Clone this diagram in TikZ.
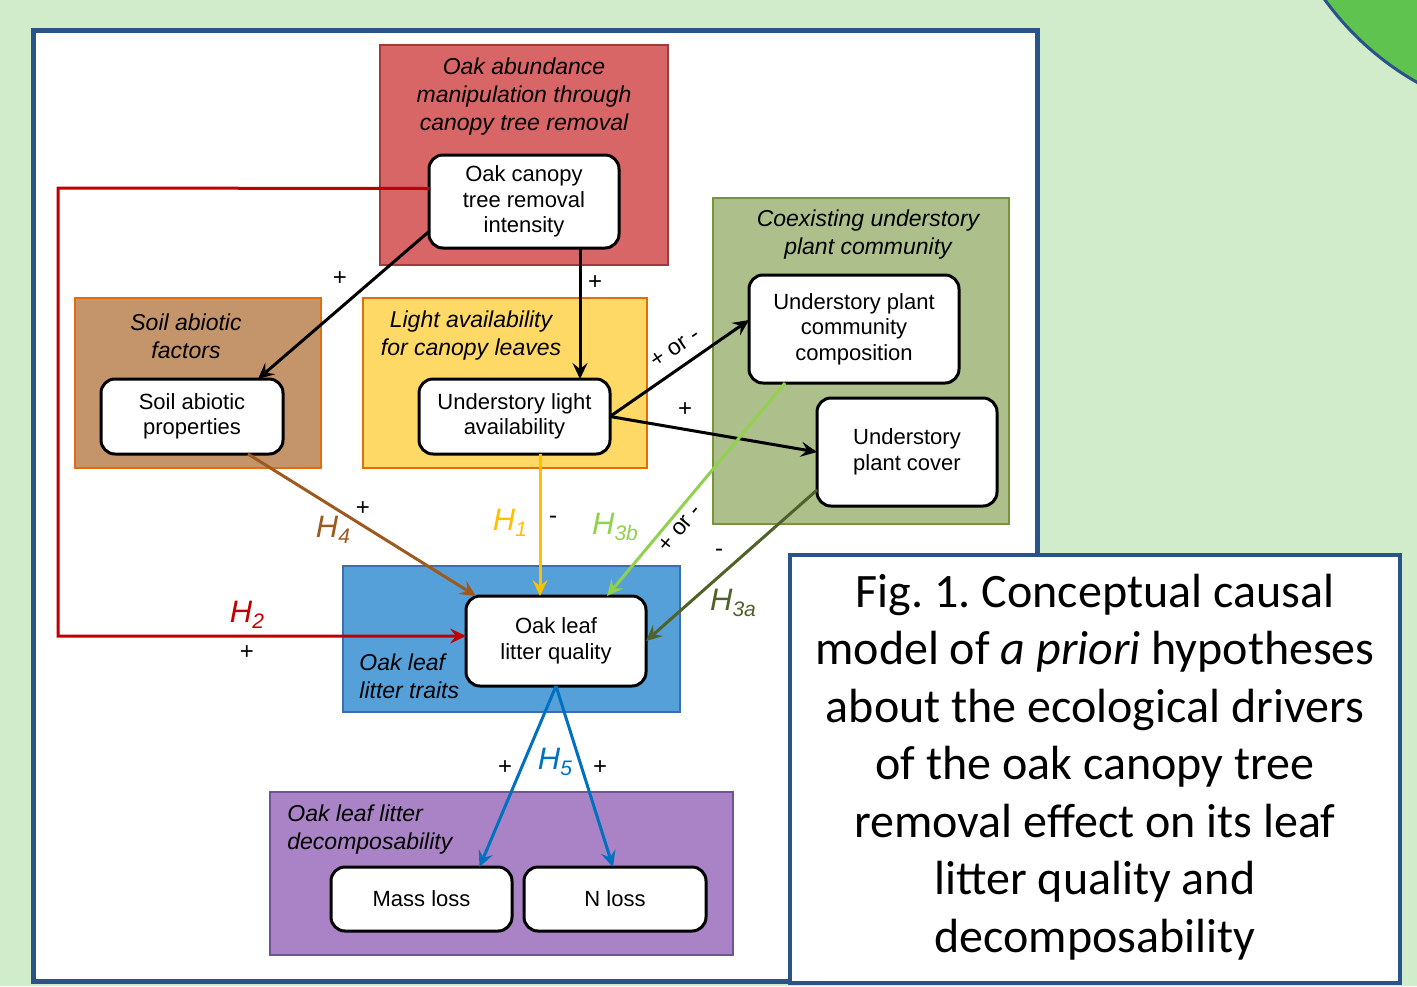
\documentclass[tikz,border=0pt]{standalone}
\usepackage{fontspec}
\setmainfont{Liberation Sans}
\newfontfamily\capfont{Carlito}
\usetikzlibrary{arrows.meta,calc}
\frenchspacing
\definecolor{bgc}{HTML}{D0ECCB}
\definecolor{circg}{HTML}{5FC34F}
\definecolor{dblue}{HTML}{2A5389}
\definecolor{redfill}{HTML}{D96666}
\definecolor{redbd}{HTML}{A33A3A}
\definecolor{soilfill}{HTML}{C4956B}
\definecolor{orbd}{HTML}{E46C0A}
\definecolor{lightfill}{HTML}{FFD966}
\definecolor{grfill}{HTML}{ADBF8B}
\definecolor{grbd}{HTML}{77933C}
\definecolor{blfill}{HTML}{55A0D8}
\definecolor{blbd}{HTML}{3A6FAF}
\definecolor{pufill}{HTML}{A983C5}
\definecolor{pubd}{HTML}{6E5496}
\definecolor{cred}{HTML}{C00000}
\definecolor{cbrown}{HTML}{9E5A1E}
\definecolor{cyellow}{HTML}{FFC000}
\definecolor{clgreen}{HTML}{92D050}
\definecolor{cdgreen}{HTML}{4F6228}
\definecolor{cblue}{HTML}{0070C0}
\newcommand\Hlab[1]{\textit{H}\raisebox{-0.35ex}{\fontsize{10.5}{10.5}\selectfont\textit{#1}}}
\tikzset{
  sz/.style 2 args={minimum width=#1*0.5pt, minimum height=#2*0.5pt},
  grp/.style={draw, line width=1.3pt, inner sep=0pt, outer sep=0pt},
  inn/.style={draw=black, fill=white, rounded corners=7pt, line width=1.5pt, inner sep=0pt, outer sep=0pt, align=center, font=\fontsize{11}{12.75}\selectfont},
  ital/.style={font=\fontsize{11.5}{14}\selectfont\itshape, inner sep=0pt},
  arr/.style={line width=1.5pt, -{Stealth[length=8pt,width=7.5pt,inset=3pt]}},
  sgn/.style={font=\fontsize{12}{12}\selectfont, inner sep=0pt},
  rsgn/.style={font=\fontsize{11.5}{11.5}\selectfont, inner sep=0pt},
  hl/.style={font=\fontsize{15.5}{15.5}\selectfont, inner sep=0pt}
}
\begin{document}
\begin{tikzpicture}[x=0.5pt,y=-0.5pt]
\useasboundingbox (0,0) rectangle (1417,986);
\fill[bgc] (0,0) rectangle (1417,986);
\begin{scope}
\clip (0,0) rectangle (1417,986);
\draw[fill=circg, draw=dblue, line width=1.5pt] (1560,-170) circle (290);
\end{scope}
% main panel
\node[draw=dblue, fill=white, line width=2.5pt, inner sep=0pt, sz={1004}{951}] (panel) at (535.5,506) {};
% groups
\node[grp, fill=redfill, draw=redbd, sz={288}{220}] (gred) at (524,155) {};
\node[grp, fill=soilfill, draw=orbd, sz={246}{170}] (gsoil) at (198,383) {};
\node[grp, fill=lightfill, draw=orbd, sz={284}{170}] (glight) at (505,383) {};
\node[grp, fill=grfill, draw=grbd, sz={296}{326}] (ggreen) at (861,361) {};
\node[grp, fill=blfill, draw=blbd, sz={337}{146}] (gblue) at (511.5,639) {};
\node[grp, fill=pufill, draw=pubd, sz={463}{163}] (gpurple) at (501.5,873.5) {};
% group titles
\node[ital, align=center] (tred) at (524,97) {Oak abundance\\manipulation through\\canopy tree removal};
\node[ital, align=center] (tsoil) at (186,336) {Soil abiotic\\factors};
\node[ital, align=center] (tlight) at (471,336) {Light availability\\for canopy leaves};
\node[ital, align=center] (tgreen) at (868,235) {Coexisting understory\\plant community};
\node[ital, align=left, anchor=west] (tblue) at (359,676) {Oak leaf\\litter traits};
\node[ital, align=left, anchor=west] (tpurple) at (287,830) {Oak leaf litter\\decomposability};
% inner nodes
\node[inn, sz={190}{93}] (oc) at (524,201.5) {Oak canopy\\tree removal\\intensity};
\node[inn, sz={182}{75}] (soil) at (192,416.5) {Soil abiotic\\properties};
\node[inn, sz={191}{75}] (light) at (514.5,416.5) {Understory light\\availability};
\node[inn, sz={210}{108}] (comp) at (854,329) {Understory plant\\community\\composition};
\node[inn, sz={180}{108}] (cover) at (907,452) {Understory\\plant cover};
\node[inn, sz={180}{90}] (litter) at (556,641) {Oak leaf\\litter quality};
\node[inn, sz={181}{64}] (mass) at (421.5,899) {Mass loss};
\node[inn, sz={182}{64}] (nloss) at (615,899) {N loss};
% connectors
\draw[arr, cred] ([yshift=6.5pt]oc.west) -- (58,188) -- (58,636) -- ([yshift=2.5pt]litter.west);
\draw[arr] ([yshift=-15pt]oc.west) -- ([xshift=33pt]soil.north);
\draw[arr] ([xshift=28pt]oc.south) -- ([xshift=28pt]oc.south |- light.north);
\draw[arr] (light.east) -- ([yshift=4.5pt]comp.west);
\draw[arr] (light.east) -- (cover.west);
\draw[arr, cbrown] ([xshift=28pt]soil.south) -- ([xshift=5pt]litter.north west);
\draw[arr, cyellow] ([xshift=12.75pt]light.south) -- ([xshift=12.75pt]light.south |- litter.north);
\draw[arr, clgreen] ([xshift=-34.5pt]comp.south) -- ([xshift=25.5pt]litter.north);
\draw[arr, cdgreen] ([yshift=-19pt]cover.west) -- (litter.east);
\draw[arr, cblue] (litter.south) -- ([xshift=29pt]mass.north);
\draw[arr, cblue] (litter.south) -- ([xshift=-1pt]nloss.north);
% labels
\node[sgn] (p1) at (340,279) {+};
\node[sgn] (p2) at (595,283) {+};
\node[rsgn, rotate=34] (p3) at (675,348) {+ or -};
\node[sgn] (p4) at (685,410) {+};
\node[hl, text=cbrown] (h4) at (333,530) {\Hlab{4}};
\node[sgn] (p5) at (363,509) {+};
\node[hl, text=cyellow] (h1) at (510,523) {\Hlab{1}};
\node[sgn] (p6) at (553,520) {-};
\node[hl, text=clgreen] (h3b) at (615,527) {\Hlab{3b}};
\node[rsgn, rotate=50] (p7) at (680,528) {+ or -};
\node[sgn] (p8) at (719,553) {-};
\node[hl, text=cdgreen] (h3a) at (733,603) {\Hlab{3a}};
\node[hl, text=cred] (h2) at (247,615) {\Hlab{2}};
\node[sgn] (p9) at (247,653) {+};
\node[sgn] (p10) at (505,768) {+};
\node[hl, text=cblue] (h5) at (555,762) {\Hlab{5}};
\node[sgn] (p11) at (600,768) {+};
% caption
\node[draw=dblue, fill=white, line width=2pt, inner sep=0pt, sz={610}{428}] (capbox) at (1095,769) {};
\node[font=\capfont\fontsize{24}{28.75}\selectfont, align=center, inner sep=0pt] (captxt) at (1095,767) {Fig. 1. Conceptual causal\\model of \textit{a priori} hypotheses\\about the ecological drivers\\of the oak canopy tree\\removal effect on its leaf\\litter quality and\\decomposability};
\end{tikzpicture}
\end{document}
